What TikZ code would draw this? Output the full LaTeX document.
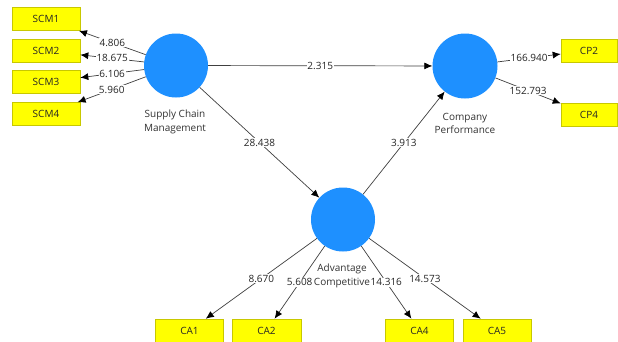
\documentclass[tikz,border=0pt]{standalone}
\usepackage{fontspec}
\setmainfont{Open Sans}
\usetikzlibrary{arrows.meta}
\definecolor{lvblue}{HTML}{1E90FF}
\definecolor{indyel}{HTML}{FFFF00}
\definecolor{indborder}{HTML}{C8C800}
\definecolor{edgegray}{HTML}{404040}
\definecolor{txtgray}{HTML}{333333}
\tikzset{
  latent/.style={circle,fill=lvblue,draw=none,minimum size=64pt,inner sep=0pt},
  indbox/.style={rectangle,fill=indyel,draw=indborder,line width=0.6pt,minimum width=68pt,minimum height=23pt,inner sep=0pt,font=\fontsize{10}{12}\selectfont,text=black!85},
  latlabel/.style={font=\fontsize{10}{13.5}\selectfont,text=txtgray,align=center,inner sep=0pt},
  conn/.style={draw=edgegray,line width=0.7pt,-{Latex[length=8pt,width=7pt,fill=black,color=black]}},
  wlab/.style={fill=white,inner sep=0.8pt,font=\fontsize{10}{12}\selectfont,text=black!85,pos=0.5}
}
\begin{document}
\begin{tikzpicture}[x=1pt,y=-1pt]
\useasboundingbox[fill=white] (0,0) rectangle (618,341);
% latent variables
\node[latent] (scm) at (176,65.5) {};
\node[latent,minimum size=65pt] (cp) at (465,66) {};
\node[latent] (ac) at (343,219.5) {};
\node[latlabel] (scmlab) at (175,122) {Supply Chain\\Management};
\node[latlabel] (cplab) at (465,123.5) {Company\\Performance};
\node[latlabel] (aclab) at (342,276) {Advantage\\Competitive};
% indicators
\node[indbox] (scm1) at (46,19) {SCM1};
\node[indbox] (scm2) at (46,51) {SCM2};
\node[indbox] (scm3) at (46,82) {SCM3};
\node[indbox] (scm4) at (46,114) {SCM4};
\node[indbox,minimum width=56pt] (cp2) at (589,50.5) {CP2};
\node[indbox,minimum width=56pt] (cp4) at (589,114.5) {CP4};
\node[indbox] (ca1) at (189.5,330.5) {CA1};
\node[indbox,minimum width=69pt] (ca2) at (266.5,330.5) {CA2};
\node[indbox] (ca4) at (419.5,330.5) {CA4};
\node[indbox] (ca5) at (497,330.5) {CA5};
% outer model
\draw[conn] (scm) -- node[wlab] {4.806} (scm1);
\draw[conn] (scm) -- node[wlab] {18.675} (scm2);
\draw[conn] (scm) -- node[wlab] {6.106} (scm3);
\draw[conn] (scm) -- node[wlab] {5.960} (scm4);
\draw[conn] (cp) -- node[wlab] {166.940} (cp2);
\draw[conn] (cp) -- node[wlab] {152.793} (cp4);
\draw[conn] (ac) -- node[wlab] {8.670} (ca1);
\draw[conn] (ac) -- node[wlab] {5.608} (ca2);
\draw[conn] (ac) -- node[wlab] {14.316} (ca4);
\draw[conn] (ac) -- node[wlab] {14.573} (ca5);
% inner model
\draw[conn] (scm) -- node[wlab] {2.315} (cp);
\draw[conn] (scm) -- node[wlab] {28.438} (ac);
\draw[conn] (ac) -- node[wlab] {3.913} (cp);
\end{tikzpicture}
\end{document}
